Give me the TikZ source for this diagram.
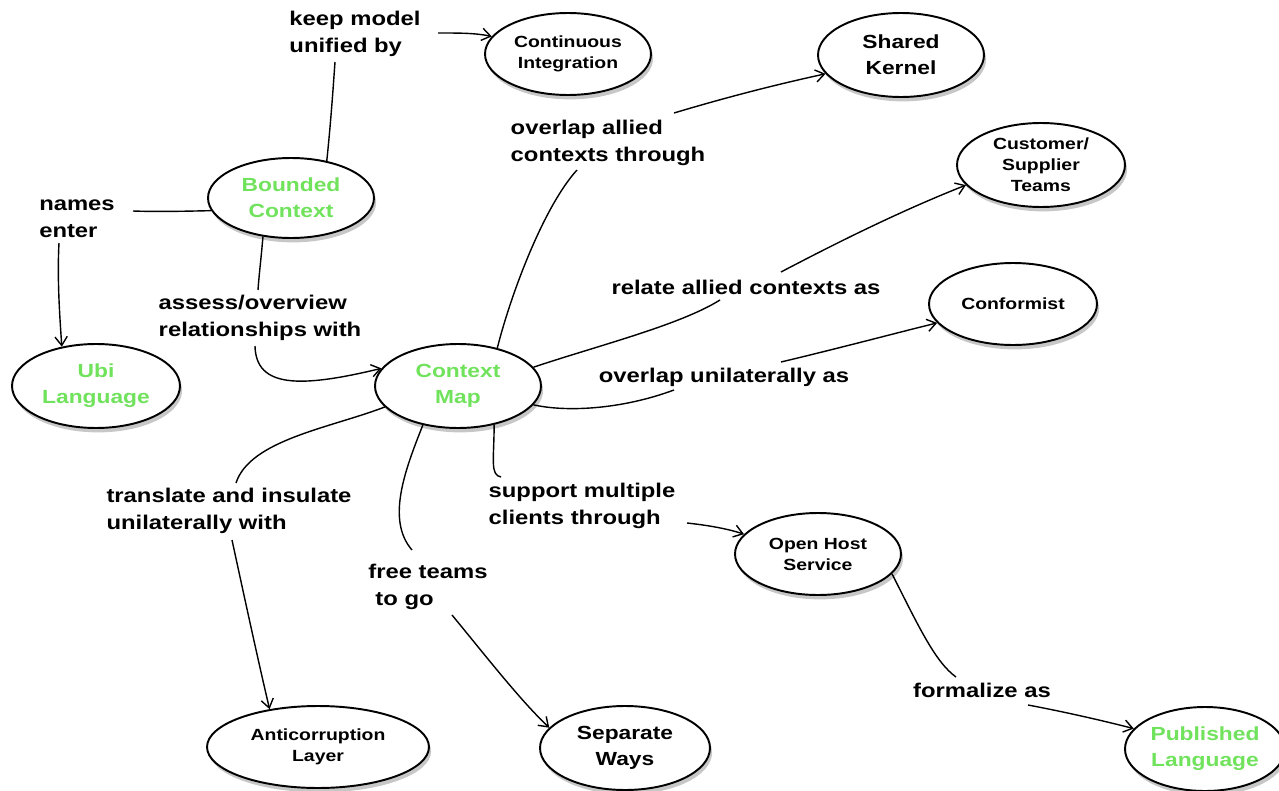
\documentclass[tikz,border=0pt]{standalone}
\usepackage{fontspec}
\newfontfamily\labfont{Liberation Sans Bold}[FakeStretch=1.2]
\usetikzlibrary{shapes.geometric,arrows.meta,calc,shadows}
\definecolor{lgreen}{RGB}{112,226,92}
\tikzset{
  ell/.style={ellipse, draw=black, line width=1.1pt, fill=white, inner sep=0pt, align=center,
    drop shadow={shadow xshift=1.2pt, shadow yshift=-2.5pt, fill=black, opacity=0.22}},
  bigtxt/.style={font=\labfont\fontsize{10.8}{14.7}\selectfont},
  smalltxt/.style={font=\labfont\fontsize{9.2}{11.9}\selectfont},
  grn/.style={text=lgreen},
  lbl/.style={inner sep=0pt, align=left, font=\labfont\fontsize{11.3}{15.3}\selectfont},
  conn/.style={line width=0.8pt},
  arr/.style={conn, -{Straight Barb[length=5pt,width=7pt]}}
}
\begin{document}
\begin{tikzpicture}[x=0.02cm,y=-0.02cm]
\useasboundingbox (0,0) rectangle (1279,791);
% concept nodes
\node[ell, smalltxt, minimum width=3.32cm, minimum height=1.64cm] (ci) at (568,54) {Continuous\\Integration};
\node[ell, bigtxt, minimum width=3.32cm, minimum height=1.68cm] (sk) at (901,55) {Shared\\Kernel};
\node[ell, smalltxt, minimum width=3.36cm, minimum height=1.68cm] (cst) at (1041,165) {Customer/\\Supplier\\Teams};
\node[ell, smalltxt, minimum width=3.36cm, minimum height=1.64cm] (conf) at (1013,304) {Conformist};
\node[ell, bigtxt, grn, minimum width=3.32cm, minimum height=1.6cm] (bc) at (291,198) {Bounded\\Context};
\node[ell, bigtxt, grn, minimum width=3.36cm, minimum height=1.68cm] (ubi) at (96,386) {Ubi\\Language};
\node[ell, bigtxt, grn, minimum width=3.32cm, minimum height=1.68cm] (cm) at (458,386) {Context\\Map};
\node[ell, smalltxt, minimum width=3.32cm, minimum height=1.64cm] (ohs) at (818,554) {Open Host\\Service};
\node[ell, bigtxt, grn, minimum width=3.2cm, minimum height=1.68cm] (pl) at (1205,749) {Published\\Language};
\node[ell, smalltxt, minimum width=4.44cm, minimum height=1.64cm] (acl) at (318,747) {Anticorruption\\Layer};
\node[ell, bigtxt, minimum width=3.4cm, minimum height=1.68cm] (sw) at (625,748) {Separate\\Ways};
% labels
\node[lbl] (lkeep) at (355,34) {keep model\\unified by};
\node[lbl] (lnames) at (77,219) {names\\enter};
\node[lbl] (lassess) at (260,318) {assess/overview\\relationships with};
\node[lbl] (lallied) at (608,143) {overlap allied\\contexts through};
\node[lbl] (lrelate) at (746,287) {relate allied contexts as};
\node[lbl] (lunil) at (724,377) {overlap unilaterally as};
\node[lbl] (ltrans) at (229,511) {translate and insulate\\unilaterally with};
\node[lbl] (lsupport) at (582,506) {support multiple\\clients through};
\node[lbl] (lfree) at (428,587) {free teams\\\hspace*{4pt}to go};
\node[lbl] (lform) at (982,690) {formalize as};
% connectors
\draw[conn] (bc.46) .. controls (331,120) and (333,90) .. ($(lkeep)+(-20,28)$);
\draw[arr] ($(lkeep)+(83,-1)$) .. controls (460,33) and (475,33) .. (ci.167);
\draw[conn] (bc.189) .. controls (195,211) and (160,212) .. ($(lnames)+(56,-8)$);
\draw[arr] ($(lnames)+(-18,24)$) .. controls (57,280) and (60,320) .. (ubi.131);
\draw[conn] (bc.234) .. controls (261,260) and (259,275) .. ($(lassess)+(-2,-28)$);
\draw[arr] ($(lassess)+(-5,28)$) .. controls (256,388) and (300,388) .. (cm.167);
\draw[conn] (cm.44) .. controls (512,290) and (545,205) .. ($(lallied)+(-31,27)$);
\draw[arr] ($(lallied)+(66,-30)$) .. controls (724,98) and (774,85) .. (sk.194);
\draw[conn] (cm.14) .. controls (600,345) and (680,325) .. ($(lrelate)+(-26,13)$);
\draw[arr] ($(lrelate)+(35,-15)$) .. controls (842,240) and (903,210) .. (cst.195);
\draw[conn] (cm.-14) .. controls (565,412) and (620,410) .. ($(lunil)+(-50,13)$);
\draw[arr] ($(lunil)+(57,-15)$) .. controls (840,348) and (900,332) .. (conf.194);
\draw[conn] (cm.196) .. controls (330,428) and (250,440) .. ($(ltrans)+(7,-28)$);
\draw[arr] ($(ltrans)+(3,29)$) .. controls (245,600) and (258,660) .. (acl.142);
\draw[conn] (cm.228) .. controls (405,470) and (386,520) .. ($(lfree)+(-16,-37)$);
\draw[arr] ($(lfree)+(24,28)$) .. controls (485,655) and (520,700) .. (sw.165);
\draw[conn] (cm.313) .. controls (494,460) and (490,475) .. ($(lsupport)+(-81,-29)$);
\draw[arr] ($(lsupport)+(105,17)$) .. controls (705,525) and (725,528) .. (ohs.165);
\draw[conn] (ohs.-15) .. controls (918,625) and (935,662) .. ($(lform)+(-26,-13)$);
\draw[arr] ($(lform)+(46,15)$) .. controls (1065,712) and (1100,720) .. (pl.164);
\end{tikzpicture}
\end{document}
